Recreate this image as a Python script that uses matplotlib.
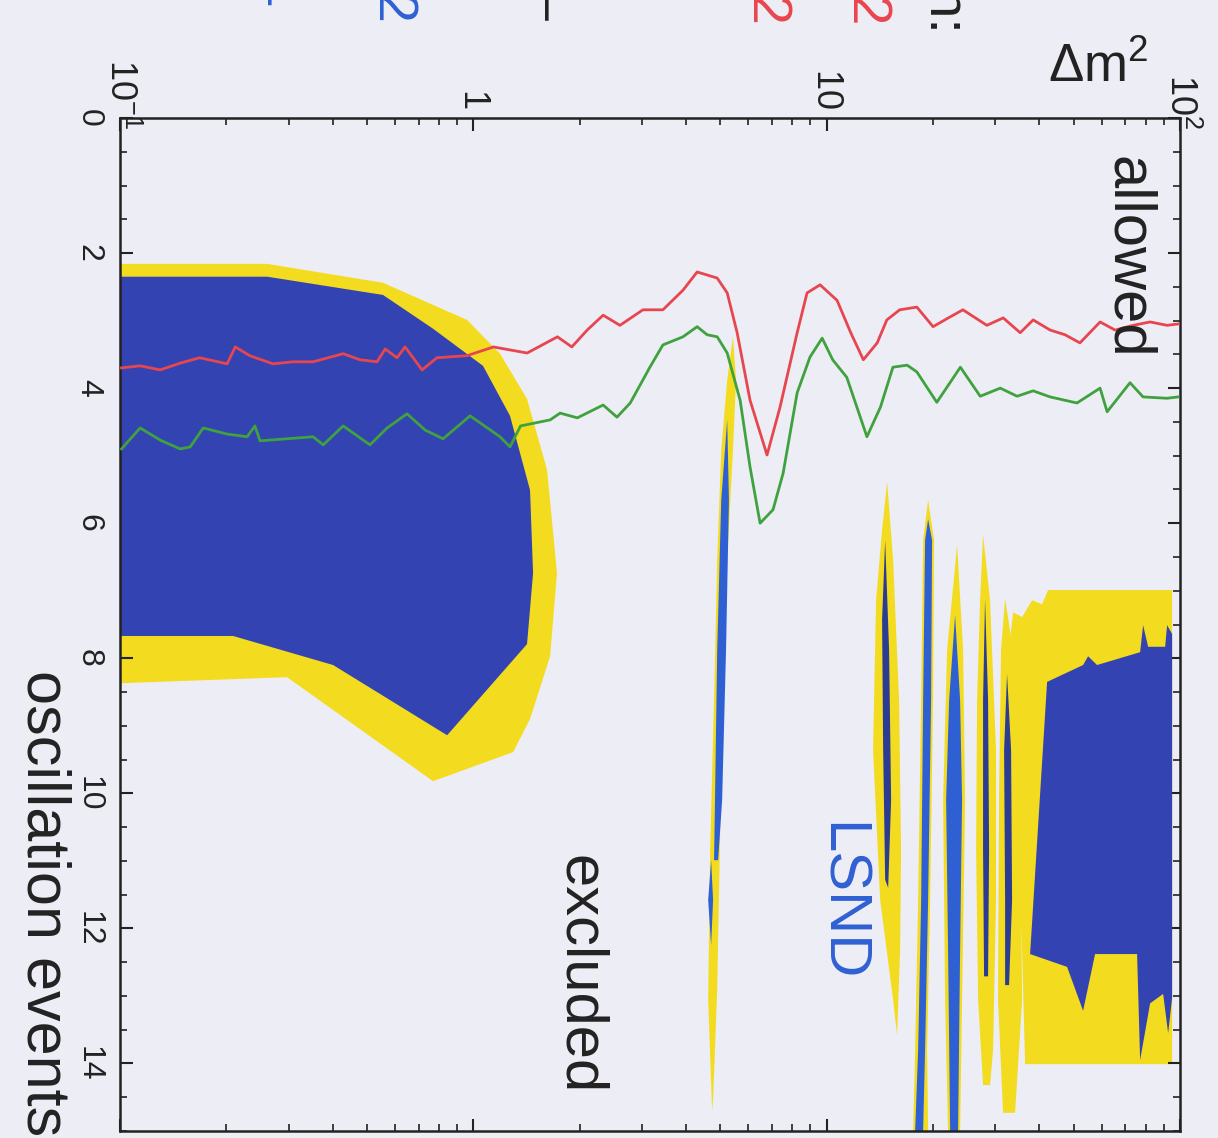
import matplotlib
matplotlib.use("Agg")
import matplotlib.pyplot as plt
from matplotlib.ticker import FixedLocator, LogLocator, MultipleLocator, NullFormatter

plt.rcParams['font.family'] = ['Liberation Sans', 'DejaVu Sans']
plt.rcParams['mathtext.fontset'] = 'custom'
plt.rcParams['mathtext.rm'] = 'Liberation Sans'
plt.rcParams['mathtext.it'] = 'Liberation Sans:italic'

BG = '#EDEDF5'
YELLOW = '#F3DC1F'
BLUE = '#3343B2'
BLUE_LINE = '#2F60D3'
BLUE_DARK = '#2B3C92'
RED = '#E8464F'
GREEN = '#3FA23F'
INK = '#222222'

# sensitivity curves: delta m^2 (eV^2) vs number of oscillation events
red_dm2 = [0.101, 0.114, 0.130, 0.148, 0.168, 0.201, 0.212, 0.233, 0.271, 0.309, 0.352,
           0.428, 0.478, 0.534, 0.563, 0.608, 0.641, 0.716, 0.789, 0.960, 1.14, 1.42,
           1.73, 1.90, 2.10, 2.33, 2.60, 3.02, 3.44, 3.92, 4.30, 4.90, 5.23, 5.58, 6.07,
           6.78, 7.38, 8.25, 8.80, 9.58, 10.7, 11.7, 12.7, 13.9, 14.8, 16.1, 18.0, 20.0,
           22.1, 24.3, 28.4, 31.6, 35.3, 38.4, 42.9, 47.3, 52.1, 59.4, 65.5, 73.7, 82.3,
           91.9, 98.8]
red_ev = [3.70, 3.67, 3.73, 3.63, 3.55, 3.64, 3.39, 3.52, 3.64, 3.61, 3.61,
          3.49, 3.58, 3.61, 3.42, 3.55, 3.39, 3.73, 3.55, 3.52, 3.39, 3.48,
          3.24, 3.39, 3.14, 2.92, 3.07, 2.84, 2.84, 2.55, 2.28, 2.37, 2.59, 3.18, 4.18,
          4.99, 4.28, 3.18, 2.59, 2.47, 2.70, 3.18, 3.58, 3.33, 2.99, 2.84, 2.80, 3.09,
          2.96, 2.84, 3.07, 2.96, 3.18, 2.99, 3.14, 3.21, 3.33, 3.02, 3.14, 3.07, 3.02,
          3.07, 3.05]

green_dm2 = [0.101, 0.114, 0.130, 0.148, 0.158, 0.172, 0.201, 0.229, 0.241, 0.249, 0.297,
             0.352, 0.376, 0.428, 0.510, 0.570, 0.649, 0.730, 0.821, 0.979, 1.19, 1.27,
             1.36, 1.65, 1.76, 1.97, 2.33, 2.55, 2.78, 3.16, 3.44, 3.92, 4.30, 4.59, 4.90,
             5.23, 5.69, 6.07, 6.48, 7.05, 7.53, 8.25, 8.97, 9.71, 10.4, 11.4, 13.0, 14.2,
             15.4, 16.9, 18.0, 20.5, 23.9, 27.2, 31.0, 34.6, 38.4, 42.9, 51.1, 59.4, 62.2,
             72.2, 78.6, 91.9, 98.8]
green_ev = [4.90, 4.59, 4.77, 4.90, 4.87, 4.59, 4.68, 4.72, 4.56, 4.78, 4.75,
            4.72, 4.84, 4.56, 4.84, 4.59, 4.38, 4.62, 4.75, 4.41, 4.72, 4.87,
            4.56, 4.47, 4.37, 4.44, 4.25, 4.43, 4.22, 3.69, 3.36, 3.24, 3.09, 3.21, 3.24,
            3.48, 4.18, 5.17, 6.00, 5.80, 5.26, 4.07, 3.54, 3.26, 3.58, 3.84, 4.72, 4.28,
            3.69, 3.66, 3.76, 4.21, 3.69, 4.12, 4.00, 4.12, 4.04, 4.13, 4.22, 4.00, 4.35,
            3.92, 4.13, 4.15, 4.13]

# LSND allowed regions (outer = yellow, inner = blue), outlines as (dm2, events)
low_outer_dm2 = [0.1, 0.261, 0.555, 0.960, 1.19, 1.419, 1.617, 1.725, 1.649, 1.447, 1.296, 0.769, 0.297, 0.1]
low_outer_ev = [2.16, 2.16, 2.44, 2.99, 3.49, 4.16, 5.21, 6.74, 7.97, 8.90, 9.39, 9.82, 8.28, 8.37]
low_inner_dm2 = [0.1, 0.261, 0.555, 0.769, 1.065, 1.27, 1.447, 1.476, 1.419, 0.843, 0.401, 0.209, 0.1]
low_inner_ev = [2.35, 2.35, 2.62, 3.12, 3.67, 4.41, 5.51, 6.74, 7.79, 9.14, 8.10, 7.67, 7.67]

isl1_outer_dm2 = [5.43, 5.54, 5.43, 5.23, 5.06, 4.99, 4.90, 4.77, 4.74, 4.62, 4.68, 4.80, 4.90, 5.03, 5.23]
isl1_outer_ev = [3.24, 3.88, 4.92, 6.55, 8.62, 10.69, 12.91, 14.54, 14.70, 13.06, 10.84, 8.62, 6.55, 4.92, 3.88]
isl1_inner_dm2 = [5.23, 5.29, 5.19, 5.06, 4.93, 4.80, 4.83, 4.90, 5.03]
isl1_inner_ev = [4.47, 5.66, 7.88, 10.10, 10.99, 10.99, 10.10, 7.88, 5.66]
isl1_blob_dm2 = [4.71, 4.77, 4.71, 4.62]
isl1_blob_ev = [10.99, 11.58, 12.25, 11.58]

isl2_outer_dm2 = [14.83, 15.42, 16.03, 16.24, 16.14, 15.82, 15.42, 14.17, 13.53, 13.80, 14.35]
isl2_outer_ev = [5.39, 6.55, 8.62, 10.84, 12.32, 13.58, 13.06, 11.58, 9.36, 7.14, 6.10]
isl2_inner_dm2 = [14.64, 15.02, 15.22, 14.93, 14.64, 14.45, 14.35]
isl2_inner_ev = [6.25, 7.88, 10.10, 11.40, 11.28, 9.36, 7.43]

isl3_outer_dm2 = [19.37, 20.14, 20.00, 19.62, 19.24, 19.37, 17.57, 17.80, 18.15, 18.51, 18.75]
isl3_outer_ev = [5.66, 6.25, 8.62, 11.58, 13.80, 15.0, 15.0, 13.80, 11.58, 8.62, 6.25]
isl3_inner_dm2 = [19.37, 19.88, 19.75, 19.37, 18.99, 18.75, 17.80, 18.15, 18.51, 18.75, 18.99]
isl3_inner_ev = [5.94, 6.25, 8.62, 11.58, 13.80, 15.0, 15.0, 13.80, 11.58, 8.62, 6.25]

isl4_outer_dm2 = [23.40, 24.33, 24.65, 24.17, 23.86, 22.06, 21.64, 21.36, 21.92]
isl4_outer_ev = [6.32, 7.88, 10.10, 13.06, 15.0, 15.0, 13.06, 10.10, 7.88]
isl4_inner_dm2 = [23.09, 23.86, 24.17, 23.86, 23.55, 22.36, 22.06, 21.78, 22.21]
isl4_inner_ev = [7.36, 8.62, 10.10, 12.32, 15.0, 15.0, 12.32, 10.10, 8.62]

isl5_outer_dm2 = [27.71, 29.00, 30.15, 30.15, 29.58, 29.00, 27.71, 26.83, 26.48, 26.65, 27.18]
isl5_outer_ev = [6.17, 7.14, 9.36, 11.58, 13.80, 14.32, 14.32, 13.06, 10.84, 8.62, 7.14]
isl5_inner_dm2 = [28.07, 28.63, 28.82, 28.63, 27.89, 27.71, 27.71]
isl5_inner_ev = [7.12, 8.62, 10.84, 12.71, 12.71, 10.84, 8.62]

isl6_outer_dm2 = [31.99, 33.70, 35.27, 35.74, 34.14, 31.57, 30.55, 30.75, 31.15]
isl6_outer_ev = [7.12, 7.88, 10.10, 13.06, 14.73, 14.73, 13.06, 10.10, 7.88]
isl6_inner_dm2 = [32.40, 33.26, 33.48, 32.83, 31.99, 31.99, 31.78]
isl6_inner_ev = [8.23, 9.36, 11.58, 12.84, 12.84, 11.58, 9.36]

high_outer_dm2 = [33.04, 33.70, 35.74, 38.15, 40.71, 42.34, 95.0, 95.0, 36.44, 35.74, 34.14]
high_outer_ev = [7.73, 7.32, 7.39, 7.14, 7.20, 6.99, 6.99, 14.01, 14.01, 12.32, 10.10]
high_inner_dm2 = [42.06, 53.18, 54.94, 58.25, 77.11, 78.64, 81.24, 90.77, 91.94, 95.0, 95.0,
                  92.56, 89.59, 82.30, 77.11, 75.61, 57.50, 53.18, 47.91, 37.65]
high_inner_ev = [8.35, 8.10, 7.97, 8.10, 7.91, 7.51, 7.83, 7.83, 7.51, 7.64, 13.03,
                 13.55, 12.97, 13.11, 13.95, 12.38, 12.38, 13.22, 12.57, 12.38]

outer_regions = [(low_outer_dm2, low_outer_ev), (isl1_outer_dm2, isl1_outer_ev),
                 (isl2_outer_dm2, isl2_outer_ev), (isl3_outer_dm2, isl3_outer_ev),
                 (isl4_outer_dm2, isl4_outer_ev), (isl5_outer_dm2, isl5_outer_ev),
                 (isl6_outer_dm2, isl6_outer_ev), (high_outer_dm2, high_outer_ev)]
inner_regions = [(low_inner_dm2, low_inner_ev, BLUE), (high_inner_dm2, high_inner_ev, BLUE),
                 (isl1_inner_dm2, isl1_inner_ev, BLUE_LINE), (isl1_blob_dm2, isl1_blob_ev, BLUE_LINE),
                 (isl3_inner_dm2, isl3_inner_ev, BLUE_LINE), (isl4_inner_dm2, isl4_inner_ev, BLUE_LINE),
                 (isl2_inner_dm2, isl2_inner_ev, BLUE_DARK), (isl5_inner_dm2, isl5_inner_ev, BLUE_DARK),
                 (isl6_inner_dm2, isl6_inner_ev, BLUE_DARK)]

x_ticks = [0.1, 1, 10, 100]
x_tick_labels = ['$10^{-1}$', '$1$', '$10$', '$10^{2}$']
y_ticks = [0, 2, 4, 6, 8, 10, 12, 14]

W, H = 1218, 1138
fig = plt.figure(figsize=(W / 100, H / 100), dpi=100)
fig.patch.set_facecolor(BG)
ax = fig.add_axes([120 / W, 7 / H, 1060 / W, 1013 / H])
ax.set_facecolor(BG)
ax.set_xscale('log')
ax.set_xlim(0.1, 100)
ax.set_ylim(15, 0)

for xs, ys in outer_regions:
    ax.fill(xs, ys, color=YELLOW, lw=0, zorder=1)
for xs, ys, c in inner_regions:
    ax.fill(xs, ys, color=c, lw=0, zorder=2)

ax.plot(red_dm2, red_ev, color=RED, lw=2.0, zorder=3)
ax.plot(green_dm2, green_ev, color=GREEN, lw=2.0, zorder=3)

# axes styling: ticks inward on every side
for s in ax.spines.values():
    s.set_color(INK)
    s.set_linewidth(1.8)
ax.xaxis.set_major_locator(FixedLocator(x_ticks))
ax.xaxis.set_minor_locator(LogLocator(base=10, subs=range(2, 10)))
ax.xaxis.set_minor_formatter(NullFormatter())
ax.yaxis.set_major_locator(FixedLocator(y_ticks))
ax.yaxis.set_minor_locator(MultipleLocator(0.5))
ax.tick_params(which='both', direction='in', top=True, bottom=True, left=True, right=True,
               labeltop=False, labelbottom=False, labelleft=True, labelright=False,
               color=INK, labelcolor=INK)
ax.tick_params(which='major', length=9, width=1.5, labelsize=23)
ax.tick_params(which='minor', length=5, width=1.2)
ax.tick_params(axis='y', pad=12)
for lab in ax.get_yticklabels():
    lab.set_rotation(-90)
    lab.set_ha('right')
    lab.set_va('center')

# top scale labels, turned with the page; powers hang past the frame line
for xv, lab in zip(x_ticks, x_tick_labels):
    dy = -8 if '^' in lab else 7
    ax.annotate(lab, xy=(xv, 1.0), xycoords=('data', 'axes fraction'),
                xytext=(0, dy), textcoords='offset points', rotation=-90,
                ha='center', va='bottom', fontsize=26, color=INK, annotation_clip=False)

big = 43
ax.text(70.8, 2.07, 'allowed', rotation=-90, ha='center', va='center', fontsize=big, color=INK, zorder=4)
ax.text(2.0, 12.68, 'excluded', rotation=-90, ha='center', va='center', fontsize=big, color=INK, zorder=4)
ax.text(10.9, 11.61, 'LSND', rotation=-90, ha='center', va='center', fontsize=big, color=BLUE_LINE, zorder=4)

fig.text(43 / W, 2 / H, 'oscillation events', rotation=-90, ha='center', va='bottom',
         fontsize=44, color=INK)
fig.text(1148 / W, 1 - 82 / H, r'$\Delta$m$^2$', ha='right', va='baseline', fontsize=38, color=INK)

# legend lines running off the top edge
legend_lines = [
    (940, 38, 'Expectation:', INK),
    (867, 24, 'upper limit, run 2', RED),
    (767, 24, 'sensitivity, run 2', RED),
    (546, 20, 'no oscillation \u2013', INK),
    (393, 22, 'LSND, run 2', BLUE_LINE),
    (281, 7, 'LSND, run 1', BLUE_LINE),
]
for lx, ly, txt, c in legend_lines:
    fig.text(lx / W, 1 - ly / H, txt, rotation=-90, ha='center', va='bottom', fontsize=40, color=c)

fig.savefig('out.png', dpi=100, facecolor=BG)
